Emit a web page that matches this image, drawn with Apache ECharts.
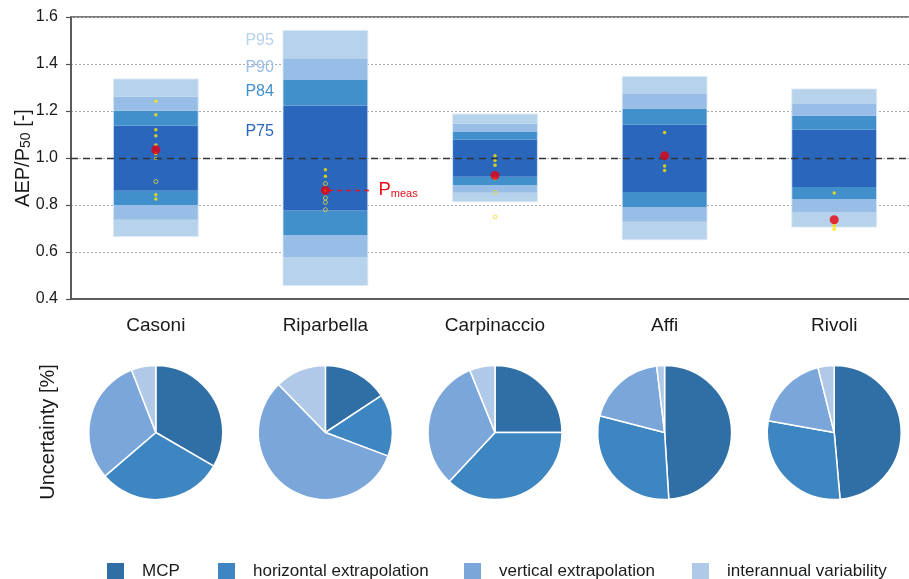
<!DOCTYPE html>
<html><head><meta charset="utf-8">
<script src="https://cdn.jsdelivr.net/npm/echarts@6/dist/echarts.min.js"></script>
<style>html,body{margin:0;padding:0;background:#fff}#c{width:909px;height:579px}</style>
</head><body><div id="c"></div>
<script>
// ---- data ----
const categories = ['Casoni', 'Riparbella', 'Carpinaccio', 'Affi', 'Rivoli'];
const p95Low  = [0.666, 0.457, 0.814, 0.652, 0.706];
const p90Low  = [0.737, 0.577, 0.852, 0.729, 0.770];
const p84Low  = [0.800, 0.672, 0.885, 0.790, 0.824];
const p75Low  = [0.861, 0.777, 0.920, 0.855, 0.877];
const p75High = [1.137, 1.223, 1.078, 1.142, 1.120];
const p84High = [1.201, 1.332, 1.113, 1.211, 1.180];
const p90High = [1.261, 1.424, 1.146, 1.272, 1.230];
const p95High = [1.336, 1.543, 1.187, 1.347, 1.294];
const pMeas   = [1.035, 0.862, 0.926, 1.010, 0.737];
const yellowFilled = [
  [1.241, 1.184, 1.120, 1.095, 1.055, 1.018, 0.998, 0.844, 0.826],
  [0.950, 0.922, 0.862],
  [1.010, 0.989, 0.969, 0.912],
  [1.109, 0.966, 0.947],
  [0.851, 0.720, 0.708, 0.697]
];
const yellowHollow = [
  [0.900],
  [0.891, 0.830, 0.811, 0.780],
  [0.854, 0.749],
  [],
  []
];
const yTicks = [0.4, 0.6, 0.8, 1.0, 1.2, 1.4, 1.6];
const sources = ['MCP', 'horizontal extrapolation', 'vertical extrapolation', 'interannual variability'];
const pieMCP    = [33.4, 15.7, 25.0, 49.0, 48.6];
const pieHoriz  = [30.4, 15.0, 36.9, 30.0, 29.2];
const pieVert   = [30.4, 56.9, 31.9, 19.1, 18.3];
const pieInter  = [5.9, 12.3, 6.1, 1.9, 3.9];
const percentileLabels = ['P95', 'P90', 'P84', 'P75'];
const percentileLabelY = [1.50, 1.385, 1.281, 1.111];

// ---- style ----
const FONT = 'Liberation Sans, Arial, Helvetica, sans-serif';
const C95 = '#b7d2eb', C90 = '#98bde6', C84 = '#4190cc', C75 = '#2966bc';
const pieColors = ['#306fa5', '#3e86c2', '#7ba6da', '#b0c9e8'];
const GRID = {left: 71, top: 17, width: 848, height: 282};

const chart = echarts.init(document.getElementById('c'), null, {renderer: 'canvas'});

const boxData = categories.map((c, i) => [i, p95Low[i], p90Low[i], p84Low[i], p75Low[i], p75High[i], p84High[i], p90High[i], p95High[i]]);
const filledPts = [], hollowPts = [];
yellowFilled.forEach((arr, i) => arr.forEach(v => filledPts.push([i, v])));
yellowHollow.forEach((arr, i) => arr.forEach(v => hollowPts.push([i, v])));

const pieSeries = categories.map((c, i) => ({
  type: 'pie',
  center: [GRID.left + GRID.width * (i + 0.5) / categories.length, 432.5],
  radius: 67,
  startAngle: 90,
  clockwise: true,
  silent: true,
  label: {show: false}, labelLine: {show: false},
  itemStyle: {borderColor: '#fff', borderWidth: 1.5},
  emphasis: {disabled: true},
  data: [pieMCP[i], pieHoriz[i], pieVert[i], pieInter[i]].map((v, k) => ({
    name: sources[k], value: v, itemStyle: {color: pieColors[k]}
  }))
}));

const legendLefts = [105, 216, 462, 690];
const legends = sources.map((s, k) => ({
  data: [s], left: legendLefts[k], top: 561, orient: 'horizontal', padding: 0,
  icon: 'rect', itemWidth: 19, itemHeight: 19, selectedMode: false,
  textStyle: {fontFamily: FONT, fontSize: 17, color: '#1a1a1a', padding: [0, 0, 0, 12]}
}));

chart.setOption({
  animation: false,
  textStyle: {fontFamily: FONT},
  grid: Object.assign({show: true, borderColor: '#505050', borderWidth: 1.5, backgroundColor: 'transparent', outerBoundsMode: 'none', containLabel: false}, GRID),
  xAxis: {
    type: 'category', data: categories,
    axisLine: {lineStyle: {color: '#505050', width: 1.5}},
    axisTick: {show: false},
    axisLabel: {fontSize: 19, color: '#1a1a1a', margin: 17, fontFamily: FONT},
    splitLine: {show: false}
  },
  yAxis: {
    type: 'value', min: yTicks[0], max: yTicks[yTicks.length - 1], interval: 0.2,
    axisLine: {show: true, lineStyle: {color: '#505050', width: 1.5}},
    axisTick: {show: true, length: 5, lineStyle: {color: '#505050', width: 1.2}},
    axisLabel: {fontSize: 16, color: '#1a1a1a', margin: 13, fontFamily: FONT, formatter: v => v.toFixed(1)},
    splitLine: {show: true, lineStyle: {type: [2, 2], color: '#a9a9a9', width: 1}}
  },
  legend: legends,
  series: [
    {
      type: 'custom', data: boxData, encode: {x: 0, y: [1, 8]}, z: 1, silent: true,
      renderItem: function (params, api) {
        const i = api.value(0);
        const lv = [1, 2, 3, 4, 5, 6, 7, 8].map(k => api.value(k));
        const w = api.size([1, 0])[0] * 0.5;
        const cx = api.coord([i, 1])[0];
        const cols = [C95, C90, C84, C75, C84, C90, C95];
        const children = cols.map((col, k) => {
          const yb = api.coord([i, lv[k]])[1], yt = api.coord([i, lv[k + 1]])[1];
          return {type: 'rect', shape: {x: cx - w / 2, y: yt, width: w, height: yb - yt}, style: {fill: col}};
        });
        const yb = api.coord([i, lv[0]])[1], yt = api.coord([i, lv[7]])[1];
        children.push({type: 'rect', shape: {x: cx - w / 2, y: yt, width: w, height: yb - yt}, style: {fill: 'none', stroke: 'rgba(220,232,245,0.8)', lineWidth: 1}});
        return {type: 'group', children: children};
      }
    },
    {
      type: 'scatter', data: filledPts, symbol: 'circle', symbolSize: 3.5, z: 4, silent: true,
      itemStyle: {color: '#ffe600'}
    },
    {
      type: 'scatter', data: hollowPts, symbol: 'circle', symbolSize: 4, z: 4, silent: true,
      itemStyle: {color: 'transparent', borderColor: '#e6dc3a', borderWidth: 1}
    },
    {
      type: 'scatter', data: pMeas.map((v, i) => [i, v]), symbol: 'circle', symbolSize: 9, z: 5, silent: true,
      itemStyle: {color: '#e8000b'},
      markLine: {
        silent: true, symbol: 'none', label: {show: false},
        lineStyle: {type: [7, 5], color: '#333', width: 1.4},
        data: [{yAxis: 1.0}]
      }
    }
  ].concat(pieSeries)
});

// ---- annotations placed via the axes ----
const gfx = [];
const ripX = chart.convertToPixel({gridIndex: 0}, [1, 1])[0];
percentileLabels.forEach((t, k) => {
  const y = chart.convertToPixel({gridIndex: 0}, [1, percentileLabelY[k]])[1];
  gfx.push({type: 'text', x: ripX - 80, y: y, z: 10,
    style: {text: t, fontFamily: FONT, fontSize: 16, fill: [C95, C90, C84, C75][k], align: 'left', verticalAlign: 'middle'}});
});
const pm = chart.convertToPixel({gridIndex: 0}, [1, pMeas[1]]);
gfx.push({type: 'line', z: 4, shape: {x1: pm[0] + 3, y1: pm[1], x2: pm[0] + 47, y2: pm[1]},
  style: {stroke: '#e8101a', lineWidth: 1.5, lineDash: [4.5, 4.5]}});
gfx.push({type: 'text', x: pm[0] + 53, y: pm[1] - 1, z: 10,
  style: {text: '{p|P}{s|meas}', align: 'left', verticalAlign: 'middle',
    rich: {p: {fontFamily: FONT, fontSize: 18.5, fill: '#e8101a', color: '#e8101a', lineHeight: 20, verticalAlign: 'bottom'},
           s: {fontFamily: FONT, fontSize: 11, fill: '#e8101a', color: '#e8101a', lineHeight: 11, verticalAlign: 'bottom', padding: [0, 0, 0, 0]}}}});
gfx.push({type: 'text', x: 22, y: 158, rotation: Math.PI / 2, z: 10,
  style: {text: '{a|AEP/P}{s|50}{a| [-]}', align: 'center', verticalAlign: 'middle',
    rich: {a: {fontFamily: FONT, fontSize: 20, fill: '#1a1a1a', color: '#1a1a1a', lineHeight: 22, verticalAlign: 'bottom'},
           s: {fontFamily: FONT, fontSize: 14, fill: '#1a1a1a', color: '#1a1a1a', lineHeight: 12, verticalAlign: 'bottom'}}}});
gfx.push({type: 'text', x: 48, y: 432, rotation: Math.PI / 2, z: 10,
  style: {text: 'Uncertainty [%]', fontFamily: FONT, fontSize: 20, fill: '#1a1a1a', align: 'center', verticalAlign: 'middle'}});
chart.setOption({graphic: gfx});
</script></body></html>
